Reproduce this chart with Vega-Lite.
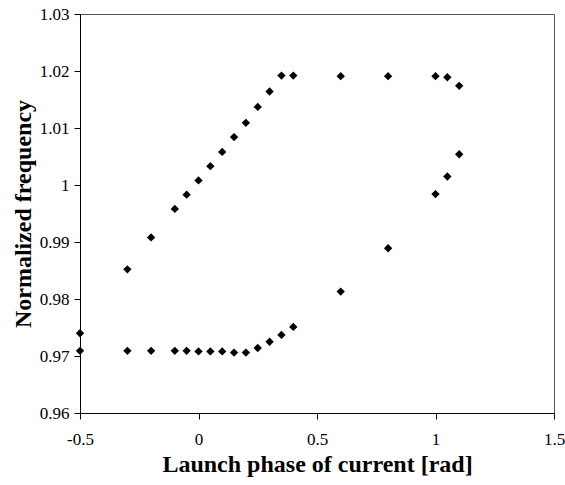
{
  "$schema": "https://vega.github.io/schema/vega-lite/v6.json",
  "autosize": "none",
  "width": 474,
  "height": 399,
  "padding": {"left": 80, "top": 14, "right": 11, "bottom": 72},
  "background": "white",
  "config": {
    "view": {"stroke": "#555", "strokeWidth": 1},
    "font": "Liberation Serif"
  },
  "data": {
    "values": [
      {"x": -0.5, "y": 0.974},
      {"x": -0.5, "y": 0.9709},
      {"x": -0.3, "y": 0.9852},
      {"x": -0.3, "y": 0.9709},
      {"x": -0.2, "y": 0.9908},
      {"x": -0.2, "y": 0.9709},
      {"x": -0.1, "y": 0.9958},
      {"x": -0.1, "y": 0.9709},
      {"x": -0.05, "y": 0.9983},
      {"x": -0.05, "y": 0.9709},
      {"x": 0.0, "y": 1.0008},
      {"x": 0.0, "y": 0.9708},
      {"x": 0.05, "y": 1.0033},
      {"x": 0.05, "y": 0.9708},
      {"x": 0.1, "y": 1.0058},
      {"x": 0.1, "y": 0.9708},
      {"x": 0.15, "y": 1.0084},
      {"x": 0.15, "y": 0.9706},
      {"x": 0.2, "y": 1.0109},
      {"x": 0.2, "y": 0.9706},
      {"x": 0.25, "y": 1.0137},
      {"x": 0.25, "y": 0.9714},
      {"x": 0.3, "y": 1.0164},
      {"x": 0.3, "y": 0.9725},
      {"x": 0.35, "y": 1.0192},
      {"x": 0.35, "y": 0.9737},
      {"x": 0.4, "y": 1.0192},
      {"x": 0.4, "y": 0.9751},
      {"x": 0.6, "y": 1.0191},
      {"x": 0.6, "y": 0.9813},
      {"x": 0.8, "y": 1.0191},
      {"x": 0.8, "y": 0.9889},
      {"x": 1.0, "y": 1.0191},
      {"x": 1.0, "y": 0.9984},
      {"x": 1.05, "y": 1.0189},
      {"x": 1.05, "y": 1.0015},
      {"x": 1.1, "y": 1.0174},
      {"x": 1.1, "y": 1.0054}
    ]
  },
  "mark": {"type": "point", "shape": "diamond", "filled": true, "color": "black", "size": 70, "opacity": 1},
  "encoding": {
    "x": {
      "field": "x", "type": "quantitative",
      "scale": {"domain": [-0.5, 1.5], "nice": false, "zero": false},
      "axis": {
        "title": "Launch phase of current [rad]",
        "values": [-0.5, 0, 0.5, 1, 1.5],
        "labelExpr": "toString(datum.value)",
        "grid": false,
        "domainColor": "black", "tickColor": "black", "tickSize": 6,
        "labelFont": "Liberation Serif", "labelFontSize": 17, "labelColor": "black",
        "labelPadding": 12, "labelFlush": false,
        "titleFont": "Liberation Serif", "titleFontSize": 24, "titleFontWeight": "bold", "titleColor": "black",
        "titlePadding": 5
      }
    },
    "y": {
      "field": "y", "type": "quantitative",
      "scale": {"domain": [0.96, 1.03], "nice": false, "zero": false},
      "axis": {
        "title": "Normalized frequency",
        "values": [0.96, 0.97, 0.98, 0.99, 1.0, 1.01, 1.02, 1.03],
        "labelExpr": "toString(datum.value)",
        "grid": false,
        "domainColor": "black", "tickColor": "black", "tickSize": 6,
        "labelFont": "Liberation Serif", "labelFontSize": 17, "labelColor": "black",
        "labelPadding": 5, "labelFlush": false,
        "titleFont": "Liberation Serif", "titleFontSize": 24, "titleFontWeight": "bold", "titleColor": "black",
        "titlePadding": 4
      }
    }
  }
}
